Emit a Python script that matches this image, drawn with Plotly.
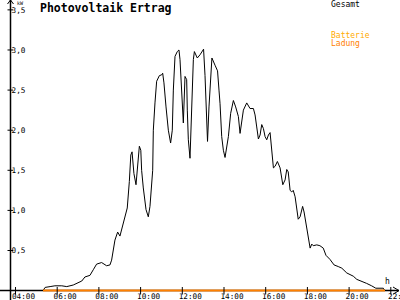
import plotly.graph_objects as go

# --- data (hours, kW) ---
gesamt_t = [5.32, 5.42, 5.66, 5.89, 6.22, 6.46, 6.77, 6.94, 7.18, 7.33, 7.57, 7.73, 7.89, 8.13, 8.37,
            8.53, 8.61, 8.77, 8.90, 9.01, 9.25, 9.36, 9.46, 9.53, 9.59, 9.68, 9.78, 9.86, 9.94, 10.01,
            10.05, 10.13, 10.26, 10.37, 10.45, 10.58, 10.61, 10.69, 10.77, 10.90, 11.01, 11.06, 11.12,
            11.22, 11.33, 11.44, 11.52, 11.57, 11.65, 11.76, 11.84, 11.89, 11.97, 12.05, 12.13, 12.21,
            12.24, 12.29, 12.37, 12.45, 12.53, 12.58, 12.66, 12.72, 12.85, 12.98, 13.02, 13.09, 13.15,
            13.21, 13.28, 13.36, 13.42, 13.57, 13.69, 13.76, 13.81, 13.89, 13.97, 14.05, 14.13, 14.21,
            14.32, 14.45, 14.56, 14.69, 14.77, 14.85, 14.93, 15.09, 15.25, 15.41, 15.49, 15.57, 15.65,
            15.73, 15.81, 15.89, 15.97, 16.05, 16.13, 16.21, 16.29, 16.37, 16.45, 16.56, 16.69, 16.77,
            16.82, 16.93, 17.01, 17.08, 17.17, 17.25, 17.32, 17.41, 17.49, 17.56, 17.65, 17.77, 17.84,
            17.95, 18.04, 18.13, 18.21, 18.28, 18.45, 18.60, 18.76, 18.89, 19.08, 19.28, 19.48, 19.65,
            19.89, 20.04, 20.20, 20.37, 20.60, 20.84, 21.08, 21.28, 21.64, 21.72]
gesamt_kw = [0.00, 0.04, 0.05, 0.06, 0.06, 0.05, 0.07, 0.09, 0.12, 0.17, 0.19, 0.26, 0.33, 0.35, 0.31,
             0.32, 0.38, 0.63, 0.73, 0.68, 0.92, 1.03, 1.36, 1.69, 1.73, 1.46, 1.32, 1.61, 1.80, 1.75,
             1.50, 1.28, 1.01, 0.92, 1.05, 1.50, 2.00, 2.34, 2.61, 2.68, 2.69, 2.71, 2.59,
             2.29, 2.00, 1.84, 2.00, 2.50, 2.92, 2.98, 3.00, 2.88, 2.50, 2.09, 2.67, 2.63,
             2.25, 1.88, 1.65, 2.29, 2.88, 2.98, 2.94, 2.90, 2.94, 3.00, 3.01, 2.68, 2.19,
             1.86, 2.29, 2.75, 2.90, 2.81, 2.74, 2.50, 2.33, 1.92, 1.75, 1.66, 1.79, 1.92,
             2.21, 2.37, 2.29, 2.17, 1.96, 2.09, 2.25, 2.34, 2.27, 2.27, 2.19, 2.04, 1.89,
             1.94, 2.07, 2.02, 1.92, 1.88, 1.94, 1.97, 1.75, 1.53, 1.55, 1.61, 1.53, 1.40,
             1.32, 1.38, 1.51, 1.48, 1.25, 1.23, 1.25, 1.17, 1.01, 0.89, 0.92, 1.05, 0.98,
             0.82, 0.67, 0.53, 0.58, 0.56, 0.57, 0.56, 0.53, 0.44, 0.39, 0.32, 0.30, 0.28,
             0.22, 0.20, 0.18, 0.14, 0.12, 0.09, 0.06, 0.03, 0.03, 0.00]

ladung_t = [5.32, 21.72]
ladung_kw = [0.0, 0.0]

x_tickvals = [4, 6, 8, 10, 12, 14, 16, 18, 20, 22]
x_ticktext = ["04:00", "06:00", "08:00", "10:00", "12:00", "14:00", "16:00", "18:00", "20:00", "22:00"]
y_tickvals = [0.5, 1.0, 1.5, 2.0, 2.5, 3.0, 3.5]
y_ticktext = ["0,5", "1,0", "1,5", "2,0", "2,5", "3,0", "3,5"]

W, H = 400, 300
X_RANGE = [3.257, 22.441]
Y_RANGE = [-0.117, 3.623]
MONO = "DejaVu Sans Mono"


def px(x):
    return x / W


def py(y):
    return 1 - y / H


y_axis_t = X_RANGE[0] + 10.5 / W * (X_RANGE[1] - X_RANGE[0])
x_axis_pos = (0 - Y_RANGE[0]) / (Y_RANGE[1] - Y_RANGE[0])

fig = go.Figure()
fig.add_trace(go.Scatter(x=gesamt_t, y=gesamt_kw, mode="lines", name="Gesamt",
                         line=dict(color="black", width=1), hoverinfo="skip", cliponaxis=False))
fig.add_trace(go.Scatter(x=ladung_t, y=ladung_kw, mode="lines", name="Batterie Ladung",
                         line=dict(color="#FF8000", width=2), hoverinfo="skip", cliponaxis=False))

shapes = []
blk = dict(color="black", width=1.5)
# axes lines
shapes.append(dict(type="line", xref="paper", yref="y", x0=0, x1=px(399), y0=0, y1=0, line=blk, layer="below"))
shapes.append(dict(type="line", xref="x", yref="paper", x0=y_axis_t, x1=y_axis_t, y0=0, y1=1, line=blk, layer="below"))
# arrow heads
shapes.append(dict(type="path", xref="paper", yref="paper",
                   path=f"M {px(393)} {py(287)} L {px(399)} {py(290.6)} L {px(393)} {py(294.2)}",
                   line=dict(color="black", width=1)))
shapes.append(dict(type="path", xref="paper", yref="paper",
                   path=f"M {px(7.5)} {py(4)} L {px(10.5)} {py(0)} L {px(13.5)} {py(4)}",
                   line=dict(color="black", width=1)))
# tick marks crossing the axes
for v in y_tickvals:
    shapes.append(dict(type="line", xref="paper", yref="y", x0=px(7.5), x1=px(13), y0=v, y1=v,
                       line=dict(color="black", width=1)))
for t in x_tickvals:
    shapes.append(dict(type="line", xref="x", yref="paper", x0=t, x1=t, y0=py(294.5), y1=py(287),
                       line=dict(color="black", width=1)))

annotations = [
    dict(text="<b>Photovoltaik Ertrag</b>", x=px(38.5), y=py(0), xanchor="left", yanchor="top",
         font=dict(family=MONO, size=11.5, color="black")),
    dict(text="kW", x=px(16), y=py(-0.5), xanchor="left", yanchor="top",
         font=dict(family=MONO, size=5, color="black")),
    dict(text="h", x=px(387), y=py(281.3), xanchor="center", yanchor="middle",
         font=dict(family=MONO, size=8, color="black")),
    dict(text="Gesamt", x=px(329.5), y=py(4.5), xanchor="left", yanchor="middle",
         font=dict(family=MONO, size=8, color="black")),
    dict(text="Batterie", x=px(329.5), y=py(35.5), xanchor="left", yanchor="middle",
         font=dict(family=MONO, size=8, color="#FFAA00")),
    dict(text="Ladung", x=px(329.5), y=py(43.5), xanchor="left", yanchor="middle",
         font=dict(family=MONO, size=8, color="#FF8000")),
]
for a in annotations:
    a.update(xref="paper", yref="paper", showarrow=False, borderpad=0)
# last time label sits at the right edge and is cut by it, as in the reference
annotations.append(dict(text=x_ticktext[-1], x=x_tickvals[-1], xref="x", y=py(290.5), yref="paper",
                        xanchor="left", yanchor="top", xshift=-3.5, showarrow=False, borderpad=0,
                        font=dict(family=MONO, size=7.7, color="black")))

fig.update_layout(
    width=W, height=H, margin=dict(l=0, r=0, t=0, b=0),
    paper_bgcolor="white", plot_bgcolor="white", showlegend=False,
    shapes=shapes, annotations=annotations,
    xaxis=dict(range=X_RANGE, showgrid=False, zeroline=False, showline=False, ticks="",
               tickvals=x_tickvals[:-1], ticktext=x_ticktext[:-1], anchor="free", position=x_axis_pos,
               tickfont=dict(family=MONO, size=7.7, color="black"), ticklabelshift=8,
               ticklabelstandoff=0, fixedrange=True),
    yaxis=dict(range=Y_RANGE, showgrid=False, zeroline=False, showline=False, ticks="",
               tickvals=y_tickvals, ticktext=y_ticktext, anchor="free", position=px(10.5), side="right",
               tickfont=dict(family=MONO, size=7.7, color="black"), fixedrange=True),
)

fig.write_html("out.html", config={"displayModeBar": False})
